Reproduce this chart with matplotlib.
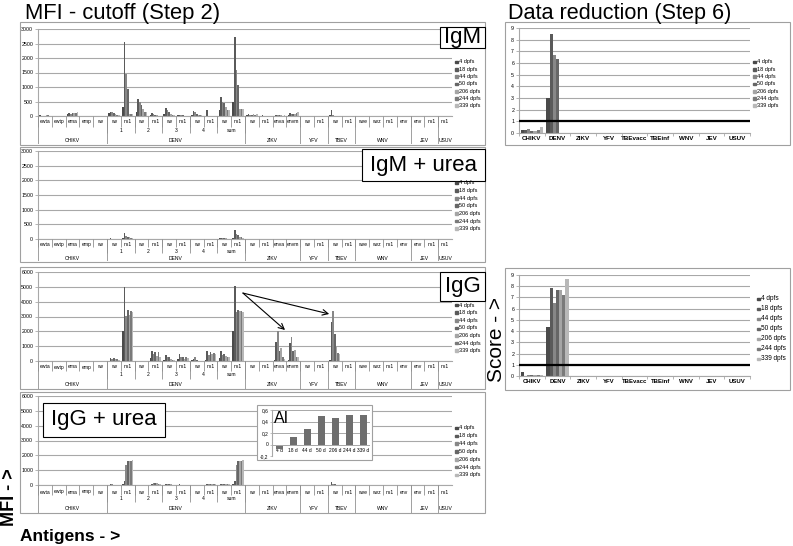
import matplotlib
matplotlib.use("Agg")
import numpy as np
import matplotlib.pyplot as plt
from matplotlib.patches import Rectangle

plt.rcParams["font.family"] = ["Liberation Sans", "DejaVu Sans"]

W, H = 793, 546

# ---- categories -------------------------------------------------------------
sub_labels = ["ewta", "ewtp", "ema", "emp", "wv",
              "wv", "ns1", "wv", "ns1", "wv", "ns1", "wv", "ns1", "wv", "ns1",
              "wv", "ns1", "enva", "envm",
              "wv", "ns1",
              "wv", "ns1",
              "wve", "wvz", "ns1", "env",
              "env", "ns1",
              "ns1"]
denv_sub = ["1", "2", "3", "4", "sum"]
groups = ["CHIKV", "DENV", "ZIKV", "YFV", "TBEV", "WNV", "JEV", "USUV"]
group_sizes = [5, 10, 4, 2, 2, 4, 2, 1]

series_labels = ["4 dpfs", "18 dpfs", "44 dpfs", "50 dpfs", "206 dpfs", "244 dpfs", "339 dpfs"]
colors = ["#4a4a4a", "#5a5a5a", "#878787", "#666666", "#a5a5a5", "#7a7a7a", "#b8b8b8"]

# ---- MFI values, one row per series (4, 18, 44, 50, 206, 244, 339 dpfs) -----
#        ewta ewtp ema emp wv | D1wv D1ns1 D2wv D2ns1 D3wv D3ns1 D4wv D4ns1 Swv Sns1 | Zwv Zns1 enva envm | Y wv ns1 | T wv ns1 | W wve wvz ns1 env | J env ns1 | U ns1
igm = [
    [20, 0, 60, 0, 0, 100, 300, 150, 30, 60, 20, 40, 10, 200, 480, 40, 10, 10, 50, 0, 0, 20, 0, 0, 0, 0, 0, 0, 0, 0],
    [15, 0, 90, 0, 0, 150, 2550, 580, 100, 260, 50, 170, 200, 640, 2720, 60, 20, 30, 100, 0, 0, 200, 0, 0, 0, 0, 0, 0, 0, 0],
    [10, 0, 80, 0, 0, 130, 1450, 470, 60, 210, 30, 140, 10, 500, 1600, 50, 10, 20, 80, 0, 0, 30, 0, 0, 0, 0, 0, 0, 0, 0],
    [10, 0, 100, 0, 0, 110, 930, 380, 30, 140, 20, 70, 10, 440, 1080, 40, 10, 20, 60, 0, 0, 10, 0, 0, 0, 0, 0, 0, 0, 0],
    [30, 0, 90, 0, 0, 60, 80, 250, 20, 60, 10, 30, 0, 300, 240, 60, 10, 20, 70, 0, 0, 0, 0, 0, 0, 0, 0, 0, 0, 0],
    [20, 0, 110, 0, 0, 40, 80, 150, 10, 40, 10, 20, 0, 220, 240, 50, 10, 10, 100, 0, 0, 0, 0, 0, 0, 0, 0, 0, 0, 0],
    [10, 0, 130, 0, 0, 30, 60, 140, 10, 30, 10, 20, 0, 220, 240, 60, 10, 30, 130, 0, 0, 0, 0, 0, 0, 0, 0, 0, 0, 0],
]
igm_urea = [
    [0, 0, 0, 0, 0, 0, 30, 0, 0, 0, 0, 0, 0, 20, 50, 0, 0, 0, 0, 0, 0, 0, 0, 0, 0, 0, 0, 0, 0, 0],
    [0, 0, 0, 0, 0, 20, 200, 0, 0, 0, 0, 0, 0, 40, 300, 0, 0, 0, 0, 0, 0, 0, 0, 0, 0, 0, 0, 0, 0, 0],
    [0, 0, 0, 0, 0, 10, 100, 0, 0, 0, 0, 0, 0, 30, 180, 0, 0, 0, 0, 0, 0, 0, 0, 0, 0, 0, 0, 0, 0, 0],
    [0, 0, 0, 0, 0, 0, 80, 0, 0, 0, 0, 0, 0, 30, 150, 0, 0, 0, 0, 0, 0, 0, 0, 0, 0, 0, 0, 0, 0, 0],
    [0, 0, 0, 0, 0, 0, 60, 0, 0, 0, 0, 0, 0, 20, 80, 0, 0, 0, 0, 0, 0, 0, 0, 0, 0, 0, 0, 0, 0, 0],
    [0, 0, 0, 0, 0, 0, 40, 0, 0, 0, 0, 0, 0, 10, 60, 0, 0, 0, 0, 0, 0, 0, 0, 0, 0, 0, 0, 0, 0, 0],
    [0, 0, 0, 0, 0, 0, 30, 0, 0, 0, 0, 0, 0, 10, 50, 0, 0, 0, 0, 0, 0, 0, 0, 0, 0, 0, 0, 0, 0, 0],
]
igg = [
    [0, 0, 0, 0, 0, 30, 2000, 10, 200, 100, 150, 40, 100, 200, 2000, 0, 0, 100, 100, 0, 0, 100, 0, 0, 0, 0, 0, 0, 0, 0],
    [0, 0, 0, 0, 0, 200, 5000, 30, 700, 400, 450, 150, 700, 700, 5050, 0, 0, 1300, 1200, 0, 0, 2600, 0, 0, 0, 0, 0, 0, 0, 0],
    [0, 0, 0, 0, 0, 150, 3050, 20, 450, 250, 300, 250, 400, 400, 3300, 0, 0, 2000, 1650, 0, 0, 3350, 0, 0, 0, 0, 0, 0, 0, 0],
    [0, 0, 0, 0, 0, 170, 3450, 20, 600, 250, 300, 80, 600, 450, 3450, 0, 0, 700, 650, 0, 0, 1800, 0, 0, 0, 0, 0, 0, 0, 0],
    [0, 0, 0, 0, 0, 130, 3100, 10, 350, 150, 150, 30, 500, 350, 3350, 0, 0, 850, 750, 0, 0, 1000, 0, 0, 0, 0, 0, 0, 0, 0],
    [0, 0, 0, 0, 0, 120, 3400, 10, 600, 100, 250, 20, 550, 300, 3350, 0, 0, 300, 300, 0, 0, 550, 0, 0, 0, 0, 0, 0, 0, 0],
    [0, 0, 0, 0, 0, 100, 3300, 10, 300, 80, 200, 20, 450, 250, 3300, 0, 0, 150, 300, 0, 0, 500, 0, 0, 0, 0, 0, 0, 0, 0],
]
igg_urea = [
    [0, 0, 0, 0, 0, 10, 50, 0, 20, 20, 10, 0, 10, 20, 50, 0, 0, 0, 0, 0, 0, 20, 0, 0, 0, 0, 0, 0, 0, 0],
    [0, 0, 0, 0, 0, 40, 250, 0, 100, 80, 40, 0, 60, 100, 250, 0, 0, 0, 0, 0, 0, 200, 0, 0, 0, 0, 0, 0, 0, 0],
    [0, 0, 0, 0, 0, 50, 1350, 0, 150, 60, 30, 0, 80, 90, 1350, 0, 0, 0, 0, 0, 0, 100, 0, 0, 0, 0, 0, 0, 0, 0],
    [0, 0, 0, 0, 0, 30, 1600, 0, 140, 50, 30, 0, 100, 80, 1600, 0, 0, 0, 0, 0, 0, 50, 0, 0, 0, 0, 0, 0, 0, 0],
    [0, 0, 0, 0, 0, 20, 1650, 0, 120, 40, 20, 0, 80, 70, 1650, 0, 0, 0, 0, 0, 0, 20, 0, 0, 0, 0, 0, 0, 0, 0],
    [0, 0, 0, 0, 0, 20, 1650, 0, 100, 30, 20, 0, 60, 60, 1650, 0, 0, 0, 0, 0, 0, 10, 0, 0, 0, 0, 0, 0, 0, 0],
    [0, 0, 0, 0, 0, 20, 1700, 0, 80, 20, 10, 0, 50, 50, 1700, 0, 0, 0, 0, 0, 0, 10, 0, 0, 0, 0, 0, 0, 0, 0],
]

# ---- data reduction scores ---------------------------------------------------
score_cats = ["CHIKV", "DENV", "ZIKV", "YFV", "TBEvacc", "TBEinf", "WNV", "JEV", "USUV"]
score_igm = [
    [0.30, 3.00, 0, 0, 0, 0, 0, 0, 0],
    [0.25, 8.45, 0, 0, 0, 0, 0, 0, 0],
    [0.35, 6.70, 0, 0, 0, 0, 0, 0, 0],
    [0.20, 6.35, 0, 0, 0, 0, 0, 0, 0],
    [0.20, 0, 0, 0, 0, 0, 0, 0, 0],
    [0.25, 0, 0, 0, 0, 0, 0, 0, 0],
    [0.50, 0, 0, 0, 0, 0, 0, 0, 0],
]
score_igg = [
    [0.35, 4.35, 0, 0, 0, 0, 0, 0, 0],
    [0.00, 7.85, 0, 0, 0, 0, 0, 0, 0],
    [0.05, 6.50, 0, 0, 0, 0, 0, 0, 0],
    [0.10, 7.65, 0, 0, 0, 0, 0, 0, 0],
    [0.08, 7.65, 0, 0, 0, 0, 0, 0, 0],
    [0.10, 7.25, 0, 0, 0, 0, 0, 0, 0],
    [0.05, 8.60, 0, 0, 0, 0, 0, 0, 0],
]
cutoff = 1

# ---- avidity index inset -----------------------------------------------------
ai_labels = ["4 d", "18 d", "44 d", "50 d", "206 d", "244 d", "339 d"]
ai_values = [-0.08, 0.13, 0.27, 0.50, 0.46, 0.51, 0.52]

GRID = "#a8a8a8"
BOX = "#a0a0a0"


def rect(x0, y0, x1, y1):
    return [x0 / W, 1 - y1 / H, (x1 - x0) / W, (y1 - y0) / H]


def fig_box(fig, x0, y0, x1, y1, fill=False, ec=BOX, lw=0.8, zorder=1):
    fig.patches.append(Rectangle((x0 / W, 1 - y1 / H), (x1 - x0) / W, (y1 - y0) / H,
                                 transform=fig.transFigure, fill=fill, fc="white",
                                 ec=ec, lw=lw, zorder=zorder))


def legend(fig, x, y0, dy, fs, sq=2.6):
    for k, (lab, c) in enumerate(zip(series_labels, colors)):
        y = y0 + k * dy
        fig.patches.append(Rectangle((x / W, 1 - (y + sq / 2) / H), sq / W, sq / H,
                                     transform=fig.transFigure, color=c, zorder=3))
        fig.text((x + sq + 1.5) / W, 1 - y / H, lab, fontsize=fs, va="center", ha="left")


def mfi_panel(fig, data, top, zero, ymax, step, rows, text_y, leg_y, leg_dy):
    ax = fig.add_axes(rect(38, top, 452, zero))
    n = len(sub_labels)
    x = np.arange(n) + 0.5
    gw = 0.84
    bw = gw / len(data)
    for k, vals in enumerate(data):
        ax.bar(x - gw / 2 + bw * (k + 0.5), vals, width=bw, color=colors[k], linewidth=0, zorder=2)
    ax.set_xlim(0, n)
    ax.set_ylim(0, ymax)
    ax.set_yticks(np.arange(0, ymax + 1, step))
    ax.tick_params(axis="y", labelsize=3.8, length=2, width=0.6, color=GRID, pad=1.5)
    ax.set_xticks([])
    ax.grid(axis="y", color=GRID, lw=0.8, zorder=0)
    for s in ["top", "right"]:
        ax.spines[s].set_visible(False)
    for s in ["left", "bottom"]:
        ax.spines[s].set_color(GRID)
        ax.spines[s].set_linewidth(0.8)

    # multi-level category table below the axis
    tab = fig.add_axes(rect(38, zero, 452, zero + rows[2]))
    tab.set_xlim(0, n)
    tab.set_ylim(rows[2], 0)
    tab.axis("off")
    lc = "#909090"
    tab.vlines(np.arange(n + 1), 0, rows[0], color=lc, lw=0.6)
    for i, lab in enumerate(sub_labels):
        tab.text(i + 0.5, text_y[0], lab, fontsize=3.6, ha="center", va="center")
    for j, lab in enumerate(denv_sub):
        tab.text(5 + 2 * j + 1, text_y[1], lab, fontsize=3.6, ha="center", va="center")
    tab.vlines(np.arange(5, 16, 2), 0, rows[1], color=lc, lw=0.6)
    edges = np.concatenate([[0], np.cumsum(group_sizes)])
    tab.vlines(edges, 0, rows[2], color=lc, lw=0.6)
    for g, a, b in zip(groups, edges[:-1], edges[1:]):
        tab.text((a + b) / 2, text_y[2], g, fontsize=3.6, ha="center", va="center")

    legend(fig, 455, leg_y, leg_dy, 4.0)
    return ax


def score_panel(fig, data, top, zero, leg_x, leg_y, leg_dy, leg_fs, lab_fs):
    ax = fig.add_axes(rect(519, top, 750, zero))
    n = len(score_cats)
    x = np.arange(n)
    bw = 0.86 / len(data)
    for k, vals in enumerate(data):
        ax.bar(x - 0.43 + bw * (k + 0.5), vals, width=bw, color=colors[k], linewidth=0, zorder=2)
    ax.axhline(cutoff, color="black", lw=1.6, zorder=3)
    ax.set_xlim(-0.5, n - 0.5)
    ax.set_ylim(0, 9)
    ax.set_yticks(range(10))
    ax.tick_params(axis="y", labelsize=3.8, length=2, width=0.6, color=GRID, pad=1.5)
    ax.set_xticks(x)
    ax.set_xticklabels(score_cats, fontsize=lab_fs, fontweight="bold")
    ax.tick_params(axis="x", length=0, pad=2)
    ax.set_xticks(np.arange(-0.5, n), minor=True)
    ax.tick_params(axis="x", which="minor", length=2, width=0.6, color=GRID)
    ax.grid(axis="y", color=GRID, lw=0.8, zorder=0)
    for s in ["top", "right"]:
        ax.spines[s].set_visible(False)
    for s in ["left", "bottom"]:
        ax.spines[s].set_color(GRID)
        ax.spines[s].set_linewidth(0.8)
    legend(fig, leg_x, leg_y, leg_dy, leg_fs)
    return ax


fig = plt.figure(figsize=(W / 100, H / 100), dpi=100)

fig.text(25 / W, 1 - 13.5 / H, "MFI - cutoff (Step 2)", fontsize=15.8, va="center", ha="left")
fig.text(508 / W, 1 - 13.5 / H, "Data reduction (Step 6)", fontsize=15.6, va="center", ha="left")

# panel frames
fig_box(fig, 20, 22, 485, 145)
fig_box(fig, 20, 147, 485, 262)
fig_box(fig, 20, 267, 485, 389)
fig_box(fig, 20, 392, 485, 513)
fig_box(fig, 505, 22, 790, 145)
fig_box(fig, 505, 268, 790, 390)

mfi_panel(fig, igm, 29, 116, 3000, 500, [11, 17, 28], [6, 14, 24], 62, 7.3)
mfi_panel(fig, igm_urea, 151, 239, 3000, 500, [8, 14, 22], [5, 12, 19], 183, 7.6)
ax_igg = mfi_panel(fig, igg, 272, 361, 6000, 1000, [10, 18, 28], [6, 13.5, 23], 305, 7.6)
mfi_panel(fig, igg_urea, 396, 485, 6000, 1000, [10, 17, 28], [7, 14, 23], 428, 7.8)

# arrows pointing from DENV sum ns1 to the cross-reacting antigens
ax_igg.annotate("", xy=(17.9, 2090), xytext=(14.85, 4580),
                arrowprops=dict(arrowstyle="->", color="black", lw=0.8, shrinkA=0, shrinkB=0))
ax_igg.annotate("", xy=(21.1, 3170), xytext=(14.85, 4580),
                arrowprops=dict(arrowstyle="->", color="black", lw=0.8, shrinkA=0, shrinkB=0))

score_panel(fig, score_igm, 28, 133, 753, 62, 7.3, 4.0, 4.5)
score_panel(fig, score_igg, 275, 376, 757, 299, 10.0, 4.7, 4.3)

# antibody class labels
for (x0, y0, x1, y1, txt) in [(440, 27, 485, 48, "IgM"),
                              (362, 149, 485, 181, "IgM + urea"),
                              (440, 272, 485, 301, "IgG"),
                              (43, 403, 165, 437, "IgG + urea")]:
    fig_box(fig, x0, y0, x1, y1, fill=True, ec="black", lw=0.8, zorder=2)
    fig.text((x0 + x1) / 2 / W, 1 - (y0 + y1) / 2 / H, txt, fontsize=16, ha="center", va="center", zorder=4)

# avidity index inset
fig_box(fig, 257, 405, 372, 460, fill=True, ec=BOX, lw=0.8, zorder=2)
ai = fig.add_axes(rect(272, 410, 370, 456))
ai.set_zorder(3)
ai.patch.set_alpha(0)
ai.bar(np.arange(len(ai_values)), ai_values, width=0.5, color="#6e6e6e", zorder=2)
ai.set_xlim(-0.5, len(ai_values) - 0.5)
ai.set_ylim(-0.2, 0.6)
ai.set_yticks([-0.2, 0, 0.2, 0.4, 0.6])
ai.set_yticklabels(["-0,2", "0", "0,2", "0,4", "0,6"])
ai.tick_params(axis="y", labelsize=3.5, length=1.5, width=0.5, color=GRID, pad=1)
ai.set_xticks(np.arange(len(ai_labels)))
ai.set_xticklabels(ai_labels, fontsize=3.5)
ai.tick_params(axis="x", length=0, pad=-6)
ai.grid(axis="y", color=GRID, lw=0.7, zorder=0)
for s in ["top", "right", "bottom"]:
    ai.spines[s].set_visible(False)
ai.spines["left"].set_color(GRID)
ai.axhline(0, color=GRID, lw=0.7)
ai.text(0.02, 0.98, "AI", transform=ai.transAxes, fontsize=11.5, ha="left", va="top")

# axis captions
fig.text(10 / W, 1 - 497 / H, "MFI - >", fontsize=13, fontweight="bold", rotation=90, ha="center", va="center")
fig.text(20 / W, 1 - 537 / H, "Antigens - >", fontsize=12.5, fontweight="bold", ha="left", va="center")
fig.text(497 / W, 1 - 340 / H, "Score - >", fontsize=15, rotation=90, ha="center", va="center")

fig.savefig("out.png", dpi=100)
